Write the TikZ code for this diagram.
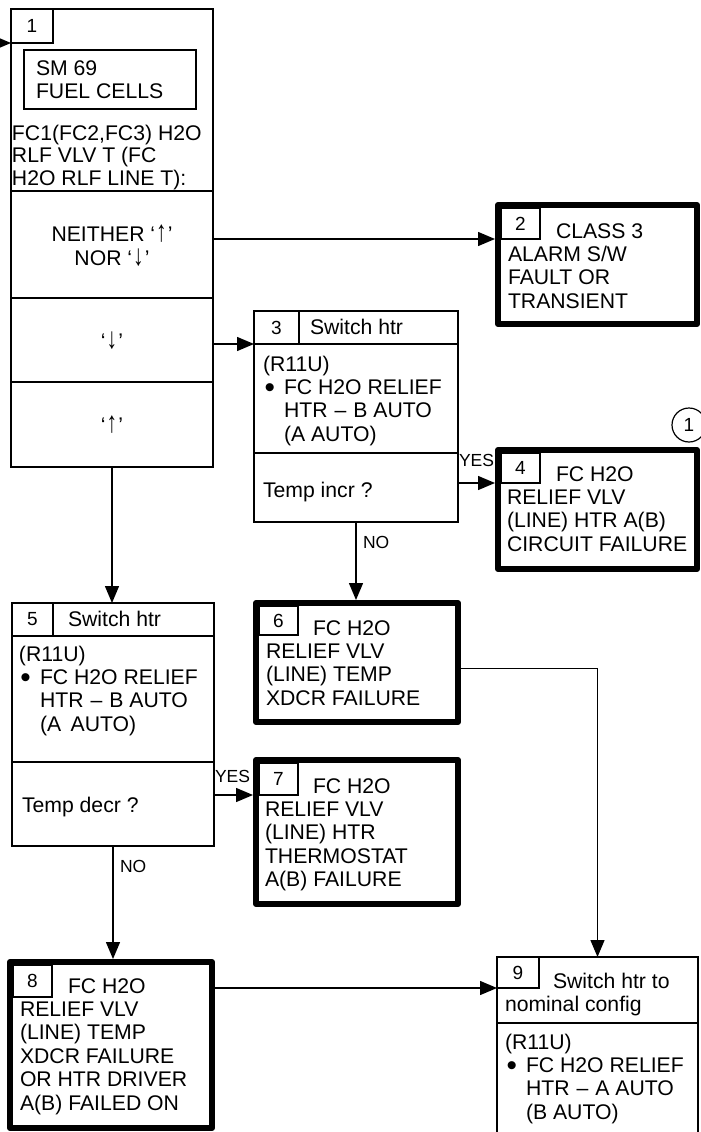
\documentclass[tikz,border=0pt]{standalone}
\usepackage{fontspec}
\setmainfont{Liberation Sans}
\usetikzlibrary{arrows.meta}
\newcommand\bodyfont{\fontsize{21.2}{23.4}\selectfont}
\newcommand\numfont{\fontsize{19}{21}\selectfont}
\newcommand\lblfont{\fontsize{17.5}{20}\selectfont}
\newcommand\mylines[1]{\begin{tabular}[t]{@{}l@{}}#1\end{tabular}}
\newcommand\bul{\makebox[21pt][l]{\hspace{1.5pt}\raisebox{-3pt}{\scalebox{1.4}{\textbullet}}}}
\newcommand\steplist[4]{\begin{tabular}[t]{@{}l@{}l@{}}\multicolumn{2}{@{}l@{}}{#1}\\\bul&#2\\&#3\\&#4\end{tabular}}
\newcommand\uparr{\kern1pt\scalebox{1}[1.4]{↑}\kern1pt}
\newcommand\dnarr{\kern1pt\scalebox{1}[1.4]{↓}\kern1pt}
\begin{document}
\begin{tikzpicture}[x=1pt,y=-1pt,
  tbox/.style={draw, line width=1.4pt, rectangle, inner sep=0pt, outer sep=0pt, anchor=north west},
  kbox/.style={draw, line width=6pt, line join=round, rectangle, inner sep=0pt, anchor=north west},
  numcell/.style={tbox, font=\numfont},
  txt/.style={anchor=base west, inner sep=0pt, outer sep=0pt, font=\bodyfont},
  lbl/.style={anchor=base west, inner sep=0pt, outer sep=0pt, font=\lblfont},
  arr/.style={line width=1.4pt, -{Triangle[length=17pt,width=14pt]}}]
\path[use as bounding box] (0,0) rectangle (701,1132);
\fill[white] (0,0) rectangle (701,1132);
\clip (0,0) rectangle (701,1132);

% Box 1
\node[tbox, minimum width=202pt, minimum height=182pt] (b1) at (11,9) {};
\node[tbox, minimum width=202pt, minimum height=107pt] (b1n) at (11,191) {};
\node[tbox, minimum width=202pt, minimum height=84pt] (b1d) at (11,298) {};
\node[tbox, minimum width=202pt, minimum height=85pt] (b1u) at (11,382) {};
\node[numcell, minimum width=42pt, minimum height=34pt] (num1) at (11,9) {1};
\node[tbox, minimum width=172pt, minimum height=59pt] (smbox) at (24,50) {};
\node[txt] (sm) at (36,75) {\mylines{SM 69\\FUEL CELLS}};
\node[txt, font=\fontsize{21.2}{22.5}\selectfont] (q1) at (12,140) {\mylines{FC1(FC2,FC3) H2O\\RLF VLV T (FC\\H2O RLF LINE T):}};
\node[anchor=base, inner sep=0pt, font=\bodyfont] (nn1) at (112,241.5) {NEITHER ‘\uparr’};
\node[anchor=base, inner sep=0pt, font=\bodyfont] (nn2) at (112,265) {NOR ‘\dnarr’};
\node[inner sep=0pt, font=\bodyfont] (dn) at (112,341) {‘\dnarr’};
\node[inner sep=0pt, font=\bodyfont] (up) at (112,425) {‘\uparr’};
\coordinate (in1) at (0,43);

% Box 2
\node[kbox, minimum width=199pt, minimum height=119pt] (b2) at (495,202) {};
\node[numcell, minimum width=39pt, minimum height=31pt] (num2) at (501,208) {2};
\node[txt] (t2) at (508,238) {\mylines{\hspace*{48pt}CLASS 3\\ALARM S/W\\FAULT OR\\TRANSIENT}};

% Box 3
\node[tbox, minimum width=204pt, minimum height=33pt] (b3h) at (254,311) {};
\node[tbox, minimum width=204pt, minimum height=109pt] (b3b) at (254,344) {};
\node[tbox, minimum width=204pt, minimum height=69pt] (b3q) at (254,453) {};
\node[numcell, minimum width=45pt, minimum height=33pt] (num3) at (254,311) {3};
\node[txt] (h3) at (310,334) {Switch htr};
\node[txt] (s3) at (263,371) {\steplist{(R11U)}{FC H2O RELIEF}{HTR\hspace{7pt}–\hspace{7pt}B AUTO}{(A AUTO)}};
\node[txt] (q3) at (263,497) {Temp incr ?};
\node[lbl] (y3) at (459,466) {YES};
\node[lbl] (n3) at (363,548) {NO};

% Box 4
\node[kbox, minimum width=199pt, minimum height=119pt] (b4) at (495,447) {};
\node[numcell, minimum width=39pt, minimum height=30pt] (num4) at (501,453) {4};
\node[txt] (t4) at (507,481) {\mylines{\hspace*{49pt}FC H2O\\RELIEF VLV\\(LINE) HTR A(B)\\CIRCUIT FAILURE}};
\node[draw, circle, line width=1.2pt, minimum size=34pt, inner sep=0pt, font=\numfont] (c1) at (689,425) {1};

% Box 5
\node[tbox, minimum width=202pt, minimum height=33pt] (b5h) at (12,603) {};
\node[tbox, minimum width=202pt, minimum height=126pt] (b5b) at (12,636) {};
\node[tbox, minimum width=202pt, minimum height=84pt] (b5q) at (12,762) {};
\node[numcell, minimum width=41pt, minimum height=33pt] (num5) at (12,603) {5};
\node[txt] (h5) at (68,626) {Switch htr};
\node[txt] (s5) at (19,661) {\steplist{(R11U)}{FC H2O RELIEF}{HTR\hspace{7pt}–\hspace{7pt}B AUTO}{(A\ \,AUTO)}};
\node[txt] (q5) at (22,812) {Temp decr ?};
\node[lbl] (y5) at (215,782) {YES};
\node[lbl] (n5) at (120,872) {NO};

% Box 6
\node[kbox, minimum width=202pt, minimum height=119pt] (b6) at (253,600) {};
\node[numcell, minimum width=39pt, minimum height=29pt] (num6) at (259,606) {6};
\node[txt] (t6) at (266,635) {\mylines{\hspace*{47pt}FC H2O\\RELIEF VLV\\(LINE) TEMP\\XDCR FAILURE}};

% Box 7
\node[kbox, minimum width=202pt, minimum height=144pt] (b7) at (253,757) {};
\node[numcell, minimum width=39pt, minimum height=32pt] (num7) at (259,763) {7};
\node[txt] (t7) at (265,793) {\mylines{\hspace*{48pt}FC H2O\\RELIEF VLV\\(LINE) HTR\\THERMOSTAT\\A(B) FAILURE}};

% Box 8
\node[kbox, minimum width=202pt, minimum height=166pt] (b8) at (7,959) {};
\node[numcell, minimum width=39pt, minimum height=32pt] (num8) at (13,965) {8};
\node[txt] (t8) at (20,993) {\mylines{\hspace*{48pt}FC H2O\\RELIEF VLV\\(LINE) TEMP\\XDCR FAILURE\\OR HTR DRIVER\\A(B) FAILED ON}};

% Box 9
\node[tbox, minimum width=201pt, minimum height=66pt] (b9h) at (497,957) {};
\node[tbox, minimum width=201pt, minimum height=130pt] (b9b) at (497,1023) {};
\node[numcell, minimum width=42pt, minimum height=31pt] (num9) at (497,957) {9};
\node[txt] (h9) at (505,988) {\mylines{\hspace*{48pt}Switch htr to\\nominal config}};
\node[txt] (s9) at (505,1049) {\steplist{(R11U)}{FC H2O RELIEF}{HTR\hspace{7pt}–\hspace{7pt}A AUTO}{(B AUTO)}};

% Connectors
\draw[arr] (in1) -- (num1.south west);
\draw[arr] (b1n.east |- num2.south) -- (b2.west |- num2.south);
\draw[arr] (b1d.east |- b3h.south) -- (b3h.south west);
\draw[arr] (b1u.south) -- (b1u.south |- b5h.north);
\draw[arr] (b3q.east |- num4.south) -- (b4.west |- num4.south);
\draw[arr] (b3q.south) -- (b3q.south |- b6.north);
\draw[arr] ([yshift=-6pt]b6.east) -| (b9h.north);
\draw[arr] (b5q.east |- num7.south) -- (b7.west |- num7.south);
\draw[arr] (b5q.south) -- (b5q.south |- b8.north);
\draw[arr] (b8.east |- num9.south) -- (b9h.west |- num9.south);
\end{tikzpicture}
\end{document}
